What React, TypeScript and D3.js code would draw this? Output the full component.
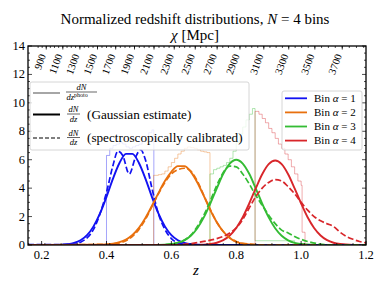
import React from "react";
import * as d3 from "d3";

// ---- data ----
const binColors = ["#1212f2", "#e8700e", "#34bc34", "#d8262a"];
const binLabels = ["1", "2", "3", "4"];
const yTicks = [0, 2, 4, 6, 8, 10, 12, 14];
const xTicks = [0.2, 0.4, 0.6, 0.8, 1.0, 1.2];
const chiTicks = [900, 1100, 1300, 1500, 1700, 1900, 2100, 2300, 2500, 2700, 2900, 3100, 3300, 3500, 3700];

// photometric histograms (step), [z, dN/dz]
const photo1 = [[0.158, 0], [0.4, 6.3], [0.41, 6.8], [0.42, 7.0], [0.43, 7.1], [0.44, 7.2], [0.45, 7.1], [0.46, 6.9], [0.47, 6.8], [0.48, 6.9], [0.49, 7.0], [0.5, 7.1], [0.51, 7.3], [0.52, 7.6], [0.53, 7.9], [0.54, 8.1], [0.546, 0], [1.2, 0]];
const photo2 = [[0.158, 0], [0.545, 4.9], [0.56, 4.95], [0.57, 5.0], [0.58, 5.2], [0.59, 5.5], [0.6, 5.8], [0.61, 6.1], [0.62, 6.4], [0.63, 6.6], [0.64, 6.8], [0.65, 6.9], [0.66, 6.85], [0.67, 6.8], [0.68, 6.7], [0.69, 6.6], [0.7, 6.55], [0.71, 6.5], [0.719, 0], [1.2, 0]];
const photo3 = [[0.158, 0], [0.719, 5.0], [0.73, 5.3], [0.74, 5.4], [0.75, 5.5], [0.76, 5.6], [0.77, 5.8], [0.78, 6.1], [0.79, 6.6], [0.8, 7.2], [0.81, 7.8], [0.82, 8.3], [0.83, 8.8], [0.84, 9.2], [0.85, 9.6], [0.858, 0.3], [0.98, 0], [1.2, 0]];
const photo4 = [[0.158, 0], [0.858, 9.4], [0.87, 9.2], [0.88, 8.9], [0.89, 8.6], [0.9, 8.2], [0.91, 7.9], [0.92, 7.5], [0.93, 7.1], [0.94, 6.8], [0.95, 6.4], [0.96, 6.0], [0.97, 5.5], [0.98, 5.0], [0.99, 4.5], [1.0, 4.2], [1.003, 0.9], [1.012, 0], [1.2, 0]];

// Gaussian estimates (solid)
const gauss1 = [[0.158, 0], [0.26, 0.01], [0.28, 0.05], [0.3, 0.14], [0.32, 0.33], [0.34, 0.69], [0.36, 1.31], [0.38, 2.22], [0.4, 3.39], [0.42, 4.67], [0.44, 5.77], [0.46, 6.41], [0.48, 6.41], [0.5, 5.77], [0.52, 4.67], [0.54, 3.39], [0.56, 2.22], [0.58, 1.31], [0.6, 0.69], [0.62, 0.33], [0.64, 0.14], [0.66, 0.05], [0.7, 0], [1.2, 0]];
const gauss2 = [[0.158, 0], [0.38, 0.02], [0.42, 0.1], [0.44, 0.2], [0.46, 0.38], [0.48, 0.7], [0.5, 1.2], [0.52, 1.9], [0.54, 2.75], [0.56, 3.65], [0.58, 4.5], [0.6, 5.15], [0.62, 5.55], [0.64, 5.55], [0.66, 5.15], [0.68, 4.4], [0.7, 3.45], [0.72, 2.45], [0.74, 1.6], [0.76, 0.95], [0.78, 0.5], [0.8, 0.22], [0.82, 0.09], [0.86, 0.01], [0.9, 0], [1.2, 0]];
const gauss3 = [[0.158, 0], [0.56, 0.01], [0.6, 0.07], [0.62, 0.15], [0.64, 0.33], [0.66, 0.65], [0.68, 1.18], [0.7, 1.94], [0.72, 2.91], [0.74, 3.99], [0.76, 5.01], [0.78, 5.73], [0.8, 6.0], [0.82, 5.73], [0.84, 5.01], [0.86, 3.99], [0.88, 2.91], [0.9, 1.94], [0.92, 1.18], [0.94, 0.65], [0.96, 0.33], [0.98, 0.15], [1.0, 0.07], [1.04, 0.01], [1.08, 0], [1.2, 0]];
const gauss4 = [[0.158, 0], [0.68, 0.01], [0.72, 0.07], [0.74, 0.16], [0.76, 0.34], [0.78, 0.67], [0.8, 1.2], [0.82, 1.95], [0.84, 2.92], [0.86, 3.98], [0.88, 4.98], [0.9, 5.69], [0.92, 5.95], [0.94, 5.69], [0.96, 4.98], [0.98, 3.98], [1.0, 2.92], [1.02, 1.95], [1.04, 1.2], [1.06, 0.67], [1.08, 0.34], [1.1, 0.16], [1.12, 0.07], [1.16, 0.01], [1.2, 0]];

// spectroscopically calibrated (dashed)
const spec1 = [[0.158, 0.02], [0.3, 0.05], [0.32, 0.2], [0.34, 0.5], [0.36, 1.1], [0.38, 2.2], [0.4, 3.7], [0.42, 5.6], [0.435, 6.6], [0.45, 6.3], [0.47, 5.0], [0.49, 6.2], [0.505, 6.7], [0.52, 6.0], [0.54, 4.0], [0.56, 2.2], [0.58, 1.1], [0.6, 0.45], [0.62, 0.15], [0.64, 0.05], [0.7, 0], [1.2, 0]];
const spec2 = [[0.158, 0], [0.4, 0.05], [0.44, 0.15], [0.46, 0.3], [0.48, 0.6], [0.5, 1.1], [0.52, 1.8], [0.54, 2.7], [0.56, 3.6], [0.58, 4.4], [0.6, 5.0], [0.62, 5.3], [0.64, 5.4], [0.66, 5.2], [0.68, 4.5], [0.7, 3.5], [0.72, 2.5], [0.74, 1.6], [0.76, 0.95], [0.78, 0.5], [0.8, 0.25], [0.82, 0.12], [0.86, 0.03], [0.9, 0], [1.2, 0]];
const spec3 = [[0.158, 0], [0.56, 0], [0.6, 0.08], [0.64, 0.35], [0.66, 0.7], [0.68, 1.3], [0.7, 2.1], [0.72, 3.1], [0.74, 4.2], [0.76, 5.1], [0.78, 5.55], [0.8, 5.5], [0.82, 5.0], [0.84, 4.3], [0.86, 3.5], [0.88, 2.8], [0.9, 2.1], [0.92, 1.5], [0.94, 1.05], [0.96, 0.85], [0.98, 0.6], [1.0, 0.4], [1.02, 0.25], [1.05, 0.1], [1.1, 0], [1.2, 0]];
const spec4 = [[0.158, 0], [0.6, 0], [0.66, 0.1], [0.7, 0.25], [0.74, 0.45], [0.78, 0.85], [0.8, 1.2], [0.82, 1.8], [0.84, 2.6], [0.86, 3.4], [0.88, 4.0], [0.9, 4.4], [0.92, 4.6], [0.94, 4.5], [0.96, 4.1], [0.98, 3.6], [1.0, 3.0], [1.02, 2.45], [1.04, 2.0], [1.06, 1.7], [1.08, 1.5], [1.1, 1.3], [1.12, 0.9], [1.14, 0.6], [1.16, 0.4], [1.18, 0.25], [1.2, 0.15]];

const photoSets = [photo1, photo2, photo3, photo4];
const gaussSets = [gauss1, gauss2, gauss3, gauss4];
const specSets = [spec1, spec2, spec3, spec4];

// cosmology for the top axis (flat LCDM)
const omegaM = 0.31;
const hubbleDist = 299792.458 / 67.7;

const W = 388;
const H = 291;
const X0 = 28, X1 = 366, Y0 = 46, Y1 = 245;
const FONT = "'Liberation Serif', serif";

function chiOfZ(z: number) {
  const n = 400;
  let s = 0;
  for (let i = 0; i < n; i++) {
    const zz = ((i + 0.5) / n) * z;
    s += 1 / Math.sqrt(omegaM * Math.pow(1 + zz, 3) + 1 - omegaM);
  }
  return hubbleDist * s * (z / n);
}

function zOfChi(chi: number) {
  let lo = 0, hi = 3;
  for (let i = 0; i < 50; i++) {
    const mid = (lo + hi) / 2;
    if (chiOfZ(mid) < chi) lo = mid;
    else hi = mid;
  }
  return (lo + hi) / 2;
}

const Frac = ({ x, cy, sup }: { x: number; cy: number; sup?: string }) => {
  const w = sup ? 31 : 13;
  return (
    <g fontFamily={FONT} fontStyle="italic">
      <text x={x + w / 2} y={cy - 2} fontSize={8.5} textAnchor="middle">dN</text>
      <line x1={x} x2={x + w} y1={cy} y2={cy} stroke="#000" strokeWidth={0.6} />
      <text x={sup ? x + 0.5 : x + w / 2} y={cy + 7.5} fontSize={8.5} textAnchor={sup ? "start" : "middle"}>
        dz
        {sup && (
          <tspan fontSize={6} fontStyle="normal" dy={-2.5}>{sup}</tspan>
        )}
      </text>
    </g>
  );
};

export default function App() {
  const x = d3.scaleLinear().domain([0.158, 1.2]).range([X0, X1]);
  const y = d3.scaleLinear().domain([0, 14]).range([Y1, Y0]);

  const stepLine = d3
    .line<number[]>()
    .x((d) => x(d[0]))
    .y((d) => y(d[1]))
    .curve(d3.curveStepAfter);
  const smooth = d3
    .line<number[]>()
    .x((d) => x(d[0]))
    .y((d) => y(d[1]))
    .curve(d3.curveMonotoneX);

  const yMinor = d3.range(0, 14.01, 0.5);
  const xMinor = d3.range(0.16, 1.201, 0.05);
  const chiMinor = d3.range(800, 3951, 50);

  return (
    <div style={{ position: "fixed", left: 0, top: 0 }}>
      <svg width={W} height={H} style={{ display: "block", background: "#fff" }}>
        <defs>
          <clipPath id="plot-clip">
            <rect x={X0} y={Y0} width={X1 - X0} height={Y1 - Y0} />
          </clipPath>
        </defs>

        {/* title */}
        <text x={195} y={24} textAnchor="middle" fontFamily={FONT} fontSize={15}>
          Normalized redshift distributions, <tspan fontStyle="italic">N</tspan> = 4 bins
        </text>
        <text x={195} y={40} textAnchor="middle" fontFamily={FONT} fontSize={15}>
          <tspan fontStyle="italic">χ</tspan> [Mpc]
        </text>

        <g clipPath="url(#plot-clip)">
          {photoSets.map((d, i) => (
            <path key={"p" + i} d={stepLine(d as any) || ""} fill="none" stroke={binColors[i]} strokeOpacity={0.38} strokeWidth={1} />
          ))}
          {gaussSets.map((d, i) => (
            <path key={"g" + i} d={smooth(d as any) || ""} fill="none" stroke={binColors[i]} strokeWidth={1.9} />
          ))}
          {specSets.map((d, i) => (
            <path key={"s" + i} d={smooth(d as any) || ""} fill="none" stroke={binColors[i]} strokeWidth={1.7} strokeDasharray="6,2.6" />
          ))}
        </g>

        {/* ticks: left/right */}
        {yMinor.map((v) => {
          const major = Math.abs(v % 2) < 1e-6;
          const l = major ? 4 : 2;
          return (
            <g key={"y" + v} stroke="#000" strokeWidth={0.7}>
              <line x1={X0} x2={X0 + l} y1={y(v)} y2={y(v)} />
              <line x1={X1} x2={X1 - l} y1={y(v)} y2={y(v)} />
            </g>
          );
        })}
        {yTicks.map((v) => (
          <text key={"yl" + v} x={X0 - 3} y={y(v) + 4} textAnchor="end" fontFamily={FONT} fontSize={12.5}>
            {v}
          </text>
        ))}

        {/* bottom ticks */}
        {xMinor.map((v) => (
          <line key={"xm" + v} x1={x(v)} x2={x(v)} y1={Y1} y2={Y1 - 2} stroke="#000" strokeWidth={0.7} />
        ))}
        {xTicks.map((v) => (
          <g key={"xt" + v}>
            <line x1={x(v)} x2={x(v)} y1={Y1} y2={Y1 - 4} stroke="#000" strokeWidth={0.8} />
            <text x={x(v)} y={Y1 + 14} textAnchor="middle" fontFamily={FONT} fontSize={12.5}>
              {v.toFixed(1)}
            </text>
          </g>
        ))}
        <text x={196} y={275} textAnchor="middle" fontFamily={FONT} fontSize={15} fontStyle="italic">
          z
        </text>

        {/* top chi axis */}
        {chiMinor.map((c) => {
          const px = x(zOfChi(c));
          if (px < X0 || px > X1) return null;
          return <line key={"cm" + c} x1={px} x2={px} y1={Y0} y2={Y0 + 2} stroke="#000" strokeWidth={0.7} />;
        })}
        {chiTicks.map((c) => {
          const px = x(zOfChi(c));
          return (
            <g key={"ct" + c}>
              <line x1={px} x2={px} y1={Y0} y2={Y0 + 3.5} stroke="#000" strokeWidth={0.8} />
              <text
                transform={`translate(${px - 7},${Y0 + 7}) rotate(-70)`}
                textAnchor="end"
                dominantBaseline="hanging"
                fontFamily={FONT}
                fontSize={10.5}
              >
                {c}
              </text>
            </g>
          );
        })}

        {/* frame */}
        <rect x={X0} y={Y0} width={X1 - X0} height={Y1 - Y0} fill="none" stroke="#000" strokeWidth={1.3} />

        {/* style legend */}
        <g>
          <rect x={30} y={82} width={219} height={68} rx={2} fill="#fff" fillOpacity={0.8} stroke="#ccc" strokeWidth={0.8} />
          <line x1={33} x2={60} y1={93} y2={93} stroke="#888" strokeWidth={1.5} />
          <Frac x={66} cy={92} sup="photo" />
          <line x1={33} x2={60} y1={114.5} y2={114.5} stroke="#000" strokeWidth={2} />
          <Frac x={67} cy={114} />
          <text x={87} y={118.5} fontFamily={FONT} fontSize={13.2}>(Gaussian estimate)</text>
          <line x1={33} x2={60} y1={138} y2={138} stroke="#000" strokeWidth={1.2} strokeDasharray="4,2" />
          <Frac x={67} cy={137.5} />
          <text x={87} y={142} fontFamily={FONT} fontSize={13.2}>(spectroscopically calibrated)</text>
        </g>

        {/* bin legend */}
        <g>
          <rect x={282} y={91} width={80} height={59} rx={2} fill="#fff" fillOpacity={0.8} stroke="#ccc" strokeWidth={0.8} />
          {binLabels.map((b, i) => {
            const cy = 98.3 + i * 14.1;
            return (
              <g key={"bl" + b}>
                <line x1={285} x2={307} y1={cy} y2={cy} stroke={binColors[i]} strokeWidth={1.8} />
                <text x={314} y={cy + 3.8} fontFamily={FONT} fontSize={11}>
                  Bin <tspan fontStyle="italic">α</tspan> = {b}
                </text>
              </g>
            );
          })}
        </g>
      </svg>
    </div>
  );
}
